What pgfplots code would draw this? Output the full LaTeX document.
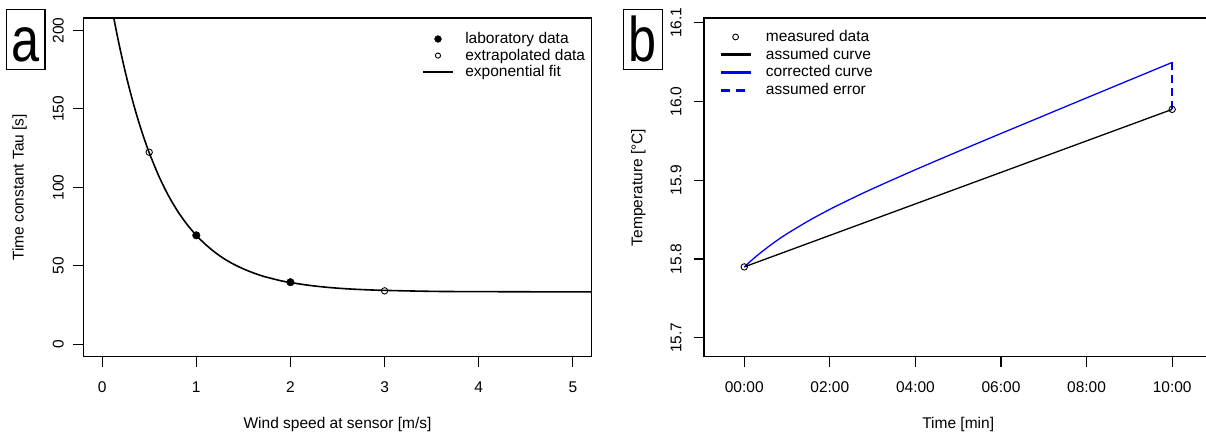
\documentclass[border=0pt]{standalone}
\usepackage{fontspec}
\setmainfont{Liberation Sans}
\usepackage{pgfplots}
\pgfplotsset{compat=1.18}
\newcommand{\ls}{\rule[-3.5pt]{0pt}{14.5pt}}
\pgfplotsset{rbase/.style={
  scale only axis, width=508.4pt, height=338.7pt, anchor=south west,
  axis line style={line width=1.1pt},
  tick align=outside, tick pos=left, major tick length=10pt,
  major tick style={black, line width=1.1pt},
  /pgf/number format/assume math mode=true,
  xticklabel style={anchor=base, inner sep=0pt}, xticklabel shift=25.7pt,
  yticklabel style={rotate=90, anchor=base, inner sep=0pt},
  legend cell align=left,
  every axis x label/.style={at={(axis description cs:0.5,-0.2117)}, anchor=base},
}}
\begin{document}
\fontsize{15.5}{18}\selectfont
\begin{tikzpicture}[font=\fontsize{15.5}{18}\selectfont]
\useasboundingbox (0,0) rectangle (1206pt,432pt);
% ---------------- panel a ----------------
\begin{axis}[rbase, at={(83.3pt,75.3pt)},
  xmin=-0.2, xmax=5.2, ymin=-8, ymax=208,
  xtick={0,1,2,3,4,5}, ytick={0,50,100,150,200},
  yticklabel shift=9.65pt,
  xlabel={Wind speed at sensor [m/s]},
  ylabel={Time constant Tau [s]},
  every axis y label/.style={at={(axis description cs:-0.1172,0.5)}, rotate=90, anchor=base},
  legend style={draw=none, fill=none, at={(0.6656,0.958)}, anchor=north west,
    inner sep=0pt, outer sep=0pt, row sep=3pt, column sep=11pt,
    nodes={inner sep=0pt, outer sep=0pt}},
]
\addlegendimage{legend image code/.code={\path[draw=none,fill=none] (0pt,-4pt) rectangle (30pt,4pt); \fill[black] (15pt,0pt) circle (3.4pt);}}
\addlegendentry{\ls laboratory data}
\addlegendimage{legend image code/.code={\path[draw=none,fill=none] (0pt,-4pt) rectangle (30pt,4pt); \draw[black, line width=0.9pt] (15pt,0pt) circle (2.6pt);}}
\addlegendentry{\ls extrapolated data}
\addlegendimage{legend image code/.code={\path[draw=none,fill=none] (0pt,-4pt) rectangle (30pt,4pt); \draw[black, line width=2.6pt] (0pt,0pt) -- (30pt,0pt);}}
\addlegendentry{\ls exponential fit}
\addplot[black, line width=1.6pt, smooth, forget plot] coordinates {
(0.1,215.7) (0.15,200.0) (0.2,185.7) (0.25,172.6) (0.3,160.6) (0.35,149.6)
(0.4,139.6) (0.45,130.5) (0.5,122.1) (0.6,107.5) (0.7,95.2) (0.8,85.0)
(0.9,76.5) (1.0,69.4) (1.1,63.5) (1.2,58.5) (1.3,54.3) (1.4,50.9) (1.5,48.0)
(1.6,45.6) (1.7,43.5) (1.8,41.9) (1.9,40.4) (2.0,39.3) (2.2,37.5) (2.4,36.2)
(2.6,35.3) (2.8,34.7) (3.0,34.3) (3.3,33.9) (3.6,33.6) (4.0,33.5) (4.5,33.4)
(5.2,33.3)};
\addplot[only marks, mark=*, mark size=3.8pt, black, forget plot] coordinates {(1,69.4) (2,39.5)};
\addplot[only marks, mark=o, mark size=3.2pt, black, mark options={line width=0.9pt}, forget plot] coordinates {(0.5,122.4) (3,34.0)};
\end{axis}
% ---------------- panel b ----------------
\begin{axis}[rbase, at={(704pt,75.3pt)},
  xmin=-0.94, xmax=10.94, ymin=15.676, ymax=16.106,
  xtick={0,2,4,6,8,10}, xticklabels={00:00,02:00,04:00,06:00,08:00,10:00},
  ytick={15.7,15.8,15.9,16.0,16.1}, yticklabels={15.7,15.8,15.9,16.0,16.1},
  yticklabel shift=12.65pt,
  xlabel={Time [min]},
  ylabel={Temperature [°C]},
  every axis y label/.style={at={(axis description cs:-0.1212,0.5)}, rotate=90, anchor=base},
  legend style={draw=none, fill=none, at={(0.0301,0.964)}, anchor=north west,
    inner sep=0pt, outer sep=0pt, row sep=4.2pt, column sep=14pt,
    nodes={inner sep=0pt, outer sep=0pt}},
]
\addlegendimage{legend image code/.code={\path[draw=none,fill=none] (0pt,-4pt) rectangle (30pt,4pt); \draw[black, line width=0.9pt] (15pt,0pt) circle (2.9pt);}}
\addlegendentry{\ls measured data}
\addlegendimage{legend image code/.code={\path[draw=none,fill=none] (0pt,-4pt) rectangle (30pt,4pt); \draw[black, line width=2.6pt] (0pt,0pt) -- (30pt,0pt);}}
\addlegendentry{\ls assumed curve}
\addlegendimage{legend image code/.code={\path[draw=none,fill=none] (0pt,-4pt) rectangle (30pt,4pt); \draw[blue, line width=2.6pt] (0pt,0pt) -- (30pt,0pt);}}
\addlegendentry{\ls corrected curve}
\addlegendimage{legend image code/.code={\path[draw=none,fill=none] (0pt,-4pt) rectangle (30pt,4pt); \draw[blue, line width=2.6pt, dash pattern=on 9pt off 6pt] (0pt,0pt) -- (30pt,0pt);}}
\addlegendentry{\ls assumed error}
\addplot[black, line width=1.3pt, forget plot] coordinates {(0,15.79) (10,15.99)};
\addplot[blue, line width=1.3pt, smooth, forget plot] coordinates {
(0,15.7900) (0.25,15.8021) (0.5,15.8130) (0.75,15.8230) (1.0,15.8321)
(1.5,15.8484) (2.0,15.8631) (2.5,15.8765) (3.0,15.8893) (4.0,15.9134)
(5.0,15.9366) (6.0,15.9594) (7.0,15.9820) (8.0,16.0046) (9.0,16.0271)
(10.0,16.0496)};
\addplot[blue, line width=2.6pt, dash pattern=on 8pt off 5pt, forget plot] coordinates {(10,15.99) (10,16.0496)};
\addplot[only marks, mark=o, mark size=3.2pt, black, mark options={line width=0.9pt}, forget plot] coordinates {(0,15.79) (10,15.99)};
\end{axis}
% ---------------- panel letters ----------------
\draw[line width=1.1pt] (6.7pt,362.7pt) rectangle (45pt,422.7pt);
\node[anchor=base, inner sep=0pt, xscale=0.8, font=\fontsize{63}{70}\selectfont] at (25.85pt,370.3pt) {a};
\draw[line width=1.1pt] (623.3pt,362.7pt) rectangle (662.7pt,422.7pt);
\node[anchor=base, inner sep=0pt, xscale=0.8, font=\fontsize{63}{70}\selectfont] at (643pt,370.3pt) {b};
\end{tikzpicture}
\end{document}
